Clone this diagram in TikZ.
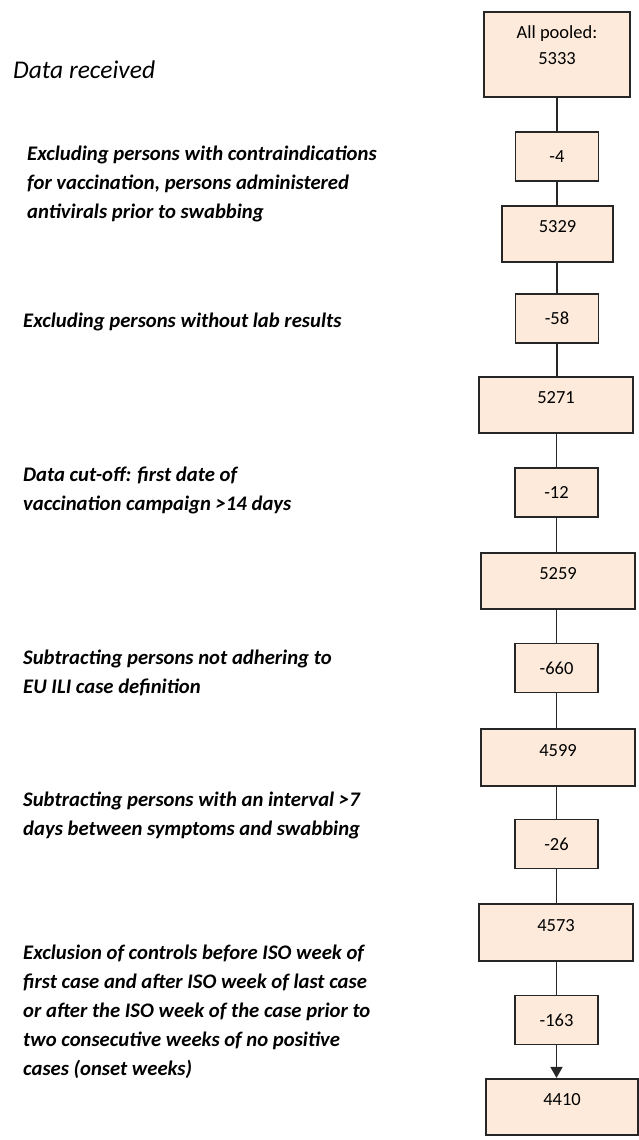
\documentclass[tikz,border=0pt]{standalone}
\usepackage{fontspec}
\setmainfont{Carlito}
\usepackage{xcolor}
\usetikzlibrary{arrows.meta,positioning}
\definecolor{boxfill}{HTML}{FDEADA}
\definecolor{boxline}{HTML}{262626}
\tikzset{
  box/.style={draw=boxline, fill=boxfill, line width=1.6pt, inner xsep=0pt, inner ysep=0pt, font=\fontsize{18.5}{25}\selectfont},
  small/.style={box, minimum width=83pt, minimum height=49pt},
  big/.style={box, minimum width=154pt, text height=27pt, text depth=29.5pt},
  link/.style={draw=boxline, line width=1.6pt},
  note/.style={anchor=base west, align=left, inner sep=0pt, font=\fontsize{20.7}{29}\selectfont\bfseries\itshape},
}
\begin{document}
\begin{tikzpicture}[x=1pt,y=-1pt]
  \useasboundingbox (0,0) rectangle (638,1140);
  % counts
  \node[box, minimum width=146pt, align=center, text height=52pt, text depth=33pt] (pool) at (557,54.5) {All pooled:\\5333};
  \node[small] (m4) at (557,156.5) {-4};
  \node[big, minimum width=111pt] (n5329) at (557.5,234) {5329};
  \node[small] (m58) at (557,318.5) {-58};
  \node[big] (n5271) at (556,405) {5271};
  \node[small] (m12) at (556.5,492.5) {-12};
  \node[big] (n5259) at (558,581) {5259};
  \node[small] (m660) at (556.5,668) {-660};
  \node[big] (n4599) at (558,757.5) {4599};
  \node[small] (m26) at (556.5,844) {-26};
  \node[big] (n4573) at (556,932.5) {4573};
  \node[small] (m163) at (556.5,1020) {-163};
  \node[big, minimum width=152pt] (n4410) at (562,1107) {4410};
  % links
  \draw[link] (pool.south -| m4) -- (m4.north);
  \draw[link] (m4.south) -- (m4 |- n5329.north);
  \draw[link] (n5329.south -| m58) -- (m58.north);
  \draw[link] (m58.south) -- (m58 |- n5271.north);
  \draw[link] (n5271.south -| m12) -- (m12.north);
  \draw[link] (m12.south) -- (m12 |- n5259.north);
  \draw[link] (n5259.south -| m660) -- (m660.north);
  \draw[link] (m660.south) -- (m660 |- n4599.north);
  \draw[link] (n4599.south -| m26) -- (m26.north);
  \draw[link] (m26.south) -- (m26 |- n4573.north);
  \draw[link] (n4573.south -| m163) -- (m163.north);
  \draw[link, -{Triangle[length=11pt,width=12pt]}] (m163.south) -- (m163 |- n4410.north);
  % steps (base = last line)
  \node[note, font=\fontsize{25.5}{29}\selectfont\itshape] (recv) at (13,78) {Data received};
  \node[note] (s1) at (27,218) {Excluding persons with contraindications\\for vaccination, persons administered\\antivirals prior to swabbing};
  \node[note] (s2) at (23,327.7) {Excluding persons without lab results};
  \node[note] (s3) at (23,510) {Data cut-off: first date of\\vaccination campaign >14 days};
  \node[note] (s4) at (23,693) {Subtracting persons not adhering to\\EU ILI case definition};
  \node[note] (s5) at (23,835) {Subtracting persons with an interval >7\\days between symptoms and swabbing};
  \node[note] (s6) at (23,1075) {Exclusion of controls before ISO week of\\first case and after ISO week of last case\\or after the ISO week of the case prior to\\two consecutive weeks of no positive\\cases (onset weeks)};
\end{tikzpicture}
\end{document}
